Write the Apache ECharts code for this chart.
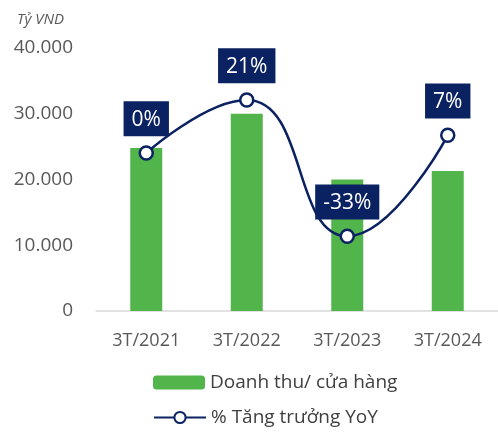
<!DOCTYPE html>
<html>
<head>
<meta charset="utf-8">
<title>Doanh thu cửa hàng</title>
<script src="https://cdn.jsdelivr.net/npm/echarts@6/dist/echarts.min.js"></script>
<style>
  html, body { margin: 0; padding: 0; background: #fff; }
  #main { width: 498px; height: 432px; }
</style>
</head>
<body>
<div id="main"></div>
<script>
// du lieu doc tu hinh
var categories = ['3T/2021', '3T/2022', '3T/2023', '3T/2024'];
var revenue = [24800, 30000, 20000, 21300];   // Ty VND
var yoy = [0, 21, -33, 7];                    // %
var yTicks = [0, 10000, 20000, 30000, 40000];

var font = '"Open Sans", "Noto Sans", sans-serif';
var navy = '#0b2262';

function fmt(v) {
  // dau cham ngan cach hang nghin
  return String(v).replace(/\B(?=(\d{3})+(?!\d))/g, '.');
}

var chart = echarts.init(document.getElementById('main'));

var legendBase = {
  orient: 'vertical',
  left: 148,
  itemWidth: 52, itemHeight: 14,
  textStyle: { fontSize: 19, color: '#404040', fontFamily: font }
};

var option = {
  animation: false,
  textStyle: { fontFamily: font },
  title: {
    text: 'Tỷ VND',
    left: 12, top: 7,
    textStyle: { fontSize: 15, fontStyle: 'italic', fontWeight: 'normal', color: '#595959', fontFamily: font }
  },
  grid: { left: 96, right: -6, top: 48, bottom: 121 },
  legend: [
    Object.assign({}, legendBase, { top: 368, data: ['Doanh thu/ cửa hàng'] }),
    Object.assign({}, legendBase, { top: 403, data: ['% Tăng trưởng YoY'] })
  ],
  xAxis: {
    type: 'category',
    data: categories,
    axisTick: { show: false },
    axisLine: { lineStyle: { color: '#d9d9d9', width: 1.5 } },
    axisLabel: { color: '#595959', fontSize: 18, margin: 21, fontFamily: font }
  },
  yAxis: [
    {
      type: 'value',
      min: yTicks[0], max: yTicks[yTicks.length - 1], interval: 10000,
      splitLine: { show: false },
      axisLine: { show: false },
      axisTick: { show: false },
      axisLabel: { color: '#595959', fontSize: 19, margin: 23, fontFamily: font, formatter: fmt }
    },
    {
      type: 'value',
      min: -62.6, max: 41.6,
      show: false
    }
  ],
  series: [
    {
      name: 'Doanh thu/ cửa hàng',
      type: 'bar',
      data: revenue,
      barWidth: 32,
      itemStyle: { color: '#52b54c' }
    },
    {
      name: '% Tăng trưởng YoY',
      type: 'line',
      yAxisIndex: 1,
      data: yoy,
      smooth: 0.5,
      symbol: 'circle',
      symbolSize: 13,
      lineStyle: { color: navy, width: 2.5 },
      itemStyle: { color: '#fff', borderColor: navy, borderWidth: 2.5 },
      label: {
        show: true,
        position: 'top',
        distance: 9,
        formatter: function (p) { return p.value + '%'; },
        color: '#fff',
        fontSize: 21,
        fontFamily: font,
        backgroundColor: navy,
        padding: [8, 8, 6, 8]
      }
    }
  ]
};

chart.setOption(option);
</script>
</body>
</html>
